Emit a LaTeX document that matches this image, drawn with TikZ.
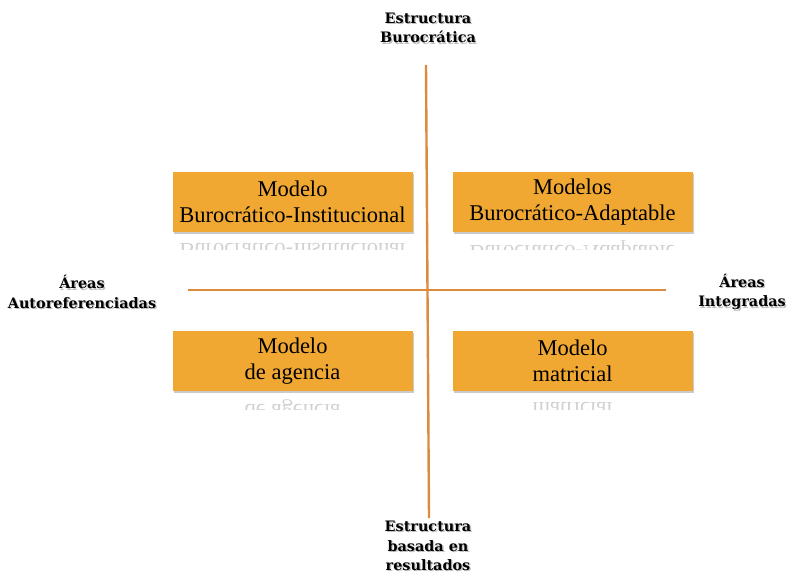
\documentclass[tikz,border=0pt]{standalone}
\usepackage{fontspec}
\setmainfont{Liberation Serif}
\newfontfamily\labfont{DejaVu Serif}
\usetikzlibrary{shadows,fadings}
\definecolor{boxfill}{HTML}{F0A832}
\definecolor{axis}{HTML}{DA8B3C}
\tikzset{
  mbox/.style={fill=boxfill, minimum width=240pt, minimum height=60pt, inner sep=0pt,
    align=center, font=\fontsize{22.5}{25.5}\selectfont,
    drop shadow={shadow xshift=1.5pt, shadow yshift=-2pt, opacity=0.35, fill=black!60}},
  refl/.style={align=center, font=\fontsize{22.5}{25.5}\selectfont, yscale=-1, transform shape, text opacity=0.18},
  lab/.style={align=center, font=\labfont\fontsize{14.4}{19.5}\selectfont\bfseries},
  labsh/.style={lab, text=black!45, text opacity=0.55},
  axisline/.style={draw=axis, line width=2.4pt}
}
\begin{document}
\begin{tikzpicture}[x=1pt,y=-1pt]
\useasboundingbox (0,0) rectangle (789,575);
% axes
\coordinate (vtop) at (426,65);
\coordinate (vbot) at (429,518);
\coordinate (hl) at (188,290);
\coordinate (hr) at (666,290);
\draw[axisline] (vtop) -- (vbot);
\draw[axisline] (hl) -- (hr);
% reflections
\begin{scope}
\clip (160,234) rectangle (700,249);
\node[refl] (r1) at (292.5,264) {Modelo\\Burocrático-Institucional};
\node[refl] (r2) at (572.5,264) {Modelos\\Burocrático-Adaptable};
\end{scope}
\begin{scope}
\clip (160,393) rectangle (700,409);
\node[refl] (r3) at (292.5,423) {Modelo\\de agencia};
\node[refl] (r4) at (572.5,423) {Modelo\\matricial};
\end{scope}
% boxes
\node[mbox] (tl) at (292.5,202) {Modelo\\Burocrático-Institucional};
\node[mbox] (tr) at (572.5,202) {Modelos\\Burocrático-Adaptable};
\node[mbox] (bl) at (292.5,361) {Modelo\\de agencia};
\node[mbox] (br) at (572.5,361) {Modelo\\matricial};
% label shadows
\node[labsh] at (429.3,29.3) {Estructura\\Burocrática};
\node[labsh] at (83.3,293.3) {Áreas\\Autoreferenciadas};
\node[labsh] at (743.3,293.3) {Áreas\\Integradas};
\node[labsh] at (429.3,547.3) {Estructura\\basada en\\resultados};
% labels
\node[lab] (top) at (428,28) {Estructura\\Burocrática};
\node[lab] (left) at (82,292) {Áreas\\Autoreferenciadas};
\node[lab] (right) at (742,292) {Áreas\\Integradas};
\node[lab] (bottom) at (428,546) {Estructura\\basada en\\resultados};
\end{tikzpicture}
\end{document}
